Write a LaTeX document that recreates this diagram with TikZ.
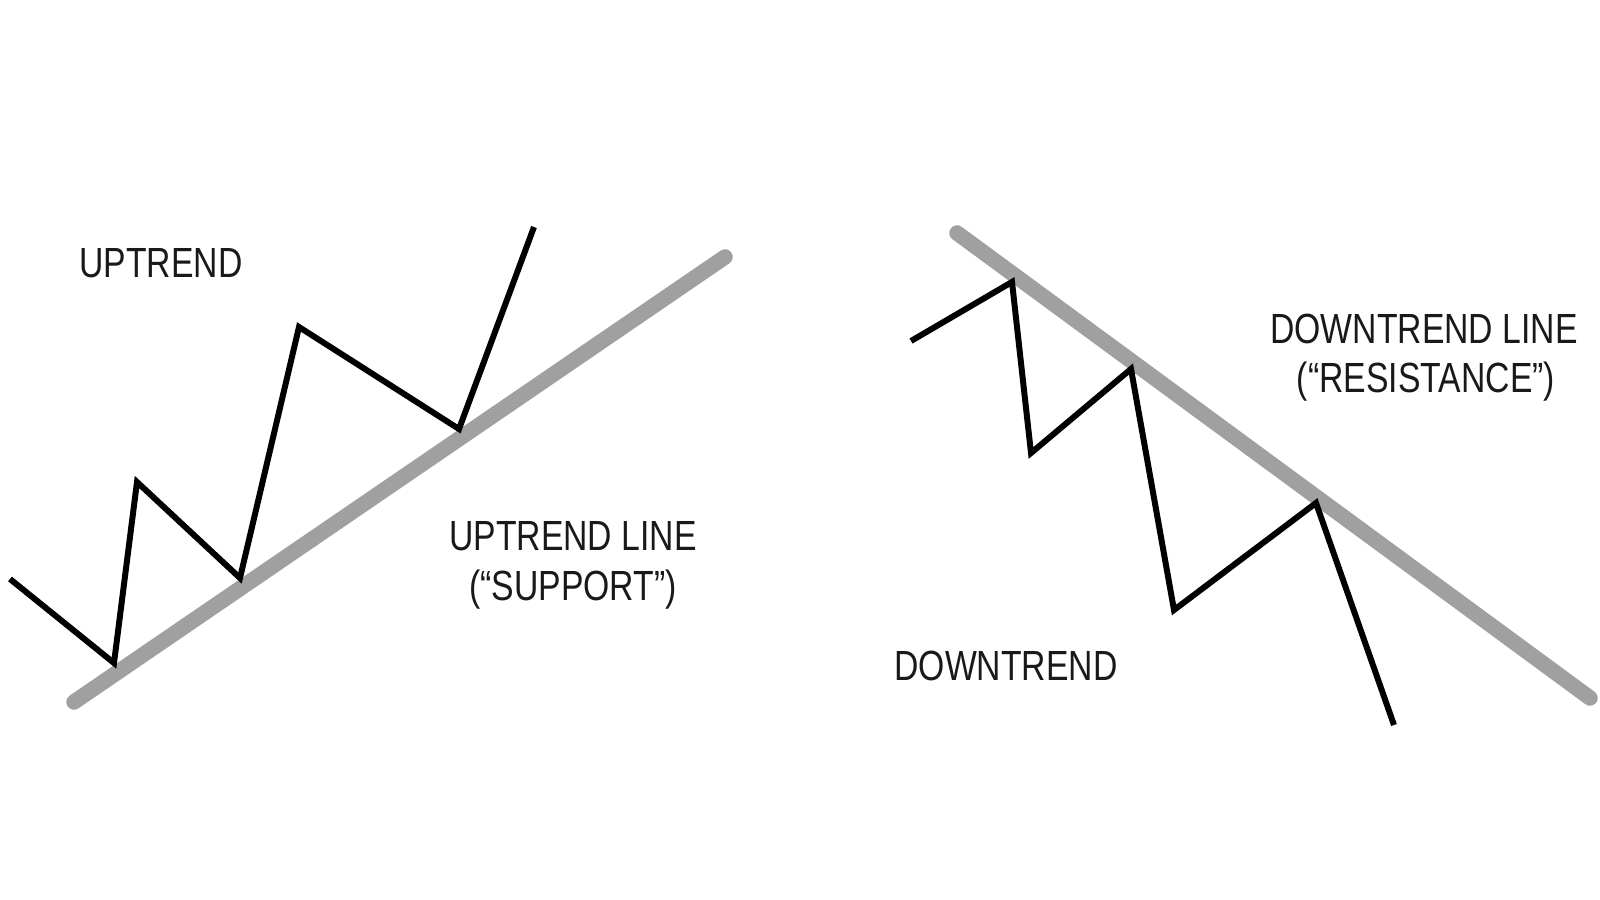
\documentclass[tikz,border=0pt]{standalone}
\usepackage{fontspec}
\setmainfont{Liberation Sans}[FakeStretch=0.8]
\usepackage{tikz}
\definecolor{trendgris}{HTML}{A0A0A0}

\begin{document}
\begin{tikzpicture}[
    x=0.1mm, y=-0.1mm,
    font=\fontsize{12}{15.6}\selectfont,
    trendline/.style={draw=trendgris, line width=4.4pt, line cap=round},
    price/.style={draw=black, line width=1.7pt, line join=miter},
    lbl/.style={anchor=base, inner sep=0pt, text=black!90}
  ]
    \useasboundingbox (0,0) rectangle (1600,900);
    % Uptrend
    \coordinate (u0) at (10,579);
    \coordinate (u1) at (114,663);
    \coordinate (u2) at (137,482);
    \coordinate (u3) at (240,578);
    \coordinate (u4) at (299,327);
    \coordinate (u5) at (459,429);
    \coordinate (u6) at (534,227);
    \coordinate (sup0) at (74,702);
    \coordinate (sup1) at (725,257);
    \draw[trendline] (sup0) -- (sup1);
    \draw[price] (u0) -- (u1) -- (u2) -- (u3) -- (u4) -- (u5) -- (u6);
    \node[lbl] (uptitle) at (161,278) {UPTREND};
    \node[lbl] (uplbl) at (573,550) {UPTREND LINE};
    \node[lbl] (uplbl2) at (573,600) {(“SUPPORT”)};
    % Downtrend
    \coordinate (d0) at (911,341);
    \coordinate (d1) at (1012,282);
    \coordinate (d2) at (1031,453);
    \coordinate (d3) at (1131,369);
    \coordinate (d4) at (1174,610);
    \coordinate (d5) at (1316,503);
    \coordinate (d6) at (1394,725);
    \coordinate (res0) at (957,233);
    \coordinate (res1) at (1590,698);
    \draw[trendline] (res0) -- (res1);
    \draw[price] (d0) -- (d1) -- (d2) -- (d3) -- (d4) -- (d5) -- (d6);
    \node[lbl] (downlbl) at (1424,343) {DOWNTREND LINE};
    \node[lbl] (downlbl2) at (1426,393) {(“RESISTANCE”)};
    \node[lbl] (downtitle) at (1006,680) {DOWNTREND};
  \end{tikzpicture}
\end{document}
